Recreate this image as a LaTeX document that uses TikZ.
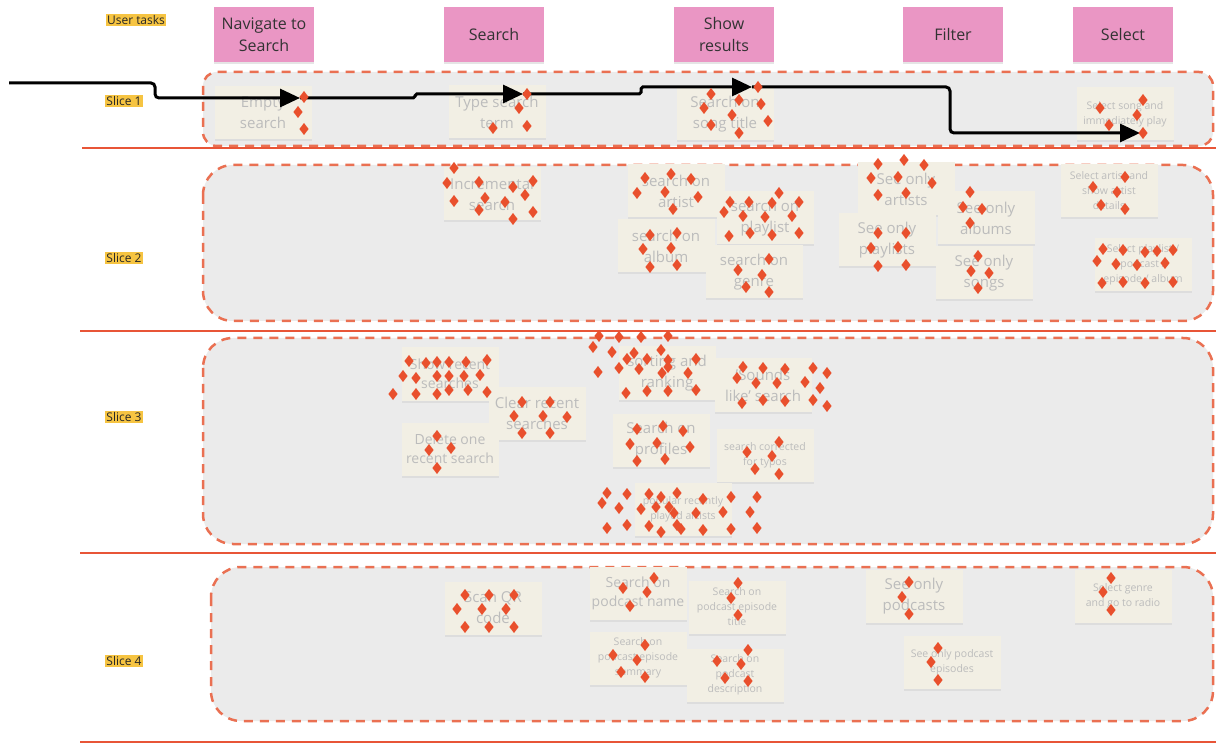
\documentclass[tikz,border=0pt]{standalone}
\usepackage{fontspec}
\setmainfont{Open Sans}
\usetikzlibrary{arrows.meta,shadows}

\definecolor{stickypink}{RGB}{234,150,196}
\definecolor{stickycream}{RGB}{242,239,228}
\definecolor{faded}{RGB}{188,188,188}
\definecolor{labelyellow}{RGB}{246,196,66}
\definecolor{slicegray}{RGB}{235,235,235}
\definecolor{slicedash}{RGB}{234,112,82}
\definecolor{rulered}{RGB}{232,85,55}
\definecolor{dot}{RGB}{233,80,45}

\tikzset{
  task/.style={fill=stickypink, minimum width=100pt, minimum height=55pt, align=center,
    text=black!80, font=\fontsize{16}{22}\selectfont,
    drop shadow={opacity=0.2, shadow xshift=0pt, shadow yshift=-2pt}},
  story/.style={fill=stickycream, minimum width=97pt, minimum height=53pt, align=center,
    text=faded, font=\fontsize{15}{21}\selectfont, inner sep=1pt,
    drop shadow={opacity=0.12, shadow xshift=0pt, shadow yshift=-2pt}},
  story small/.style={story, font=\fontsize{10.5}{15}\selectfont},
  story mid/.style={story, font=\fontsize{14}{19}\selectfont},
  tag/.style={fill=labelyellow, inner sep=1.5pt, text=black!85, font=\fontsize{12}{14}\selectfont},
  slice/.style={fill=slicegray, draw=slicedash, line width=2.5pt, dash pattern=on 9pt off 7pt,
    rounded corners=30pt},
  divider/.style={draw=rulered, line width=2pt},
  flow/.style={line width=3pt, rounded corners=4pt, -{Triangle[length=20pt,width=18pt]}}
}

% one dot vote per x/y pair
\newcommand\votes[1]{%
  \foreach \vx/\vy in {#1}
    \fill[dot] (\vx,\vy) +(0,-6) -- +(4.6,0) -- +(0,6) -- +(-4.6,0) -- cycle;}

\begin{document}
\begin{tikzpicture}[x=1pt,y=-1pt]
\useasboundingbox[fill=white] (0,0) rectangle (1216,743);

% release slices
\draw[slice, rounded corners=14pt] (203,72) rectangle (1213,146);
\draw[slice] (203,165) rectangle (1213,321);
\draw[slice] (203,338) rectangle (1213,544);
\draw[slice] (211,567) rectangle (1213,721);

\draw[divider] (82,148) -- (1216,148);
\draw[divider] (80,331) -- (1216,331);
\draw[divider] (80,553) -- (1216,553);
\draw[divider] (80,742) -- (1216,742);

% row labels
\node[tag] (tasks) at (136,20) {User tasks};
\node[tag] (s1) at (124,101) {Slice 1};
\node[tag] (s2) at (124,258) {Slice 2};
\node[tag] (s3) at (124,417) {Slice 3};
\node[tag] (s4) at (124,661) {Slice 4};

% backbone
\node[task] (navigate) at (264,35) {Navigate to\\Search};
\node[task] (search) at (494,35) {Search};
\node[task] (results) at (724,35) {Show\\results};
\node[task] (filter) at (953,35) {Filter};
\node[task] (select) at (1123,35) {Select};

% slice 1
\node[story] (empty) at (263,113) {Empty\\search};
\node[story] (typeterm) at (497,112) {Type search\\term};
\node[story] (songtitle) at (725,114) {Search on\\song title};
\node[story small] (playsong) at (1125,114) {Select song and\\immediately play};

% slice 2
\node[story] (incremental) at (492,194) {Incremental\\search};
\node[story] (onartist) at (676,191) {search on\\artist};
\node[story] (onplaylist) at (765,218) {search on\\playlist};
\node[story] (onalbum) at (666,246) {search on\\album};
\node[story] (ongenre) at (754,272) {search on\\genre};
\node[story] (onlyartists) at (906,189) {See only\\artists};
\node[story] (onlyplaylists) at (887,240) {See only\\playlists};
\node[story] (onlyalbums) at (986,218) {See only\\albums};
\node[story] (onlysongs) at (984,273) {See only\\songs};
\node[story small] (artistdetails) at (1109,191) {Select artist and\\show artist\\details};
\node[story small] (openitem) at (1143,265) {Select playlist /\\podcast /\\episode / album};

% slice 3
\node[story mid] (showrecent) at (450,374) {Show recent\\searches};
\node[story] (clearrecent) at (537,413) {Clear recent\\searches};
\node[story mid] (deleteone) at (450,449) {Delete one\\recent search};
\node[story] (sorting) at (667,373) {sorting and\\ranking};
\node[story] (soundslike) at (763,385) {'Sounds\\like' search};
\node[story] (profiles) at (661,440) {Search on\\profiles};
\node[story small] (typos) at (765,455) {search corrected\\for typos};
\node[story small] (played) at (683,509) {popular recently\\played artists};

% slice 4
\node[story] (scanqr) at (493,608) {Scan QR\\code};
\node[story mid] (podname) at (638,593) {Search on\\podcast name};
\node[story small] (eptitle) at (737,607) {Search on\\podcast episode\\title};
\node[story small] (epsummary) at (638,658) {Search on\\podcast episode\\summary};
\node[story small] (poddesc) at (735,675) {Search on\\podcast\\description};
\node[story] (onlypodcasts) at (914,596) {See only\\podcasts};
\node[story small] (onlyepisodes) at (952,662) {See only podcast\\episodes};
\node[story small] (radio) at (1123,596) {Select genre\\and go to radio};

% walking skeleton
\coordinate (start) at (9,83);
\coordinate (v1) at (300,98);
\coordinate (v2) at (523,94);
\coordinate (v3) at (752,87);
\coordinate (v4) at (1140,133);
\draw[flow] (start) -- ++(146,0) |- (v1);
\draw[flow, rounded corners=1.8pt] (v1) -- ++(115,0) |- (v2);
\draw[flow, rounded corners=1.8pt] (v2) -- ++(118,0) |- (v3);
\draw[flow] (v3) -- ++(198,0) |- (v4);

% dot votes
\votes{304/97, 298/112, 304/129}
\votes{527/94, 519/108, 527/126, 493/128}
\votes{711/94, 704/108, 739/100, 758/87, 761/104, 732/115, 768/121, 711/125, 739/133}
\votes{1100/108, 1143/100, 1137/115, 1109/125, 1143/133}

\votes{454/168, 447/183, 479/182, 513/187, 533/181, 454/201, 485/198, 505/202, 525/195, 479/210, 513/219, 533/212}
\votes{645/178, 671/174, 691/179, 637/193, 665/192, 698/197, 673/209}
\votes{730/202, 749/202, 772/203, 779/193, 799/202, 724/212, 743/216, 765/217, 792/216, 729/236, 750/233, 772/235, 799/233}
\votes{650/235, 677/233, 643/249, 671/248, 650/267, 677/265}
\votes{769/259, 738/270, 762/275, 746/287, 769/292}
\votes{878/164, 904/160, 924/165, 871/178, 898/177, 932/183, 878/195, 906/193}
\votes{878/233, 906/233, 871/248, 898/247, 878/266, 906/265}
\votes{970/192, 963/207, 982/209, 970/223}
\votes{978/256, 971/271, 989/273, 978/288}
\votes{1125/177, 1093/187, 1117/192, 1101/205, 1125/209}
\votes{1103/249, 1123/250, 1145/252, 1157/251, 1173/250, 1097/261, 1116/264, 1137/265, 1165/263, 1102/283, 1123/282, 1145/283, 1173/282}

\votes{409/361, 426/363, 437/362, 449/362, 466/362, 487/360, 403/376, 416/378, 437/376, 449/376, 464/376, 480/375, 393/394, 416/394, 437/394, 449/390, 468/390, 487/392}
\votes{522/402, 550/402, 514/416, 543/416, 567/417, 522/433, 550/433}
\votes{437/436, 429/450, 451/448, 437/468}
\votes{599/336, 619/337, 641/337, 668/336, 593/347, 612/352, 634/353, 661/350, 627/359, 647/359, 668/360, 696/359, 598/372, 619/368, 639/369, 662/373, 668/367, 688/373, 626/393, 647/391, 668/391, 696/390}
\votes{743/367, 763/368, 785/369, 813/368, 827/373, 737/378, 756/383, 777/383, 805/382, 820/388, 742/403, 763/400, 785/401, 813/400, 827/406}
\votes{637/429, 663/426, 683/431, 630/444, 657/443, 690/447, 637/461, 665/459}
\votes{779/442, 747/452, 772/456, 755/469, 779/474}
\votes{607/493, 627/494, 649/494, 661/497, 677/493, 703/499, 731/497, 757/497, 602/503, 619/508, 641/509, 656/507, 669/507, 674/513, 696/513, 723/512, 750/512, 607/528, 627/525, 649/526, 661/532, 677/525, 681/529, 703/530, 731/529, 757/528}

\votes{465/595, 489/595, 514/595, 457/609, 482/609, 506/609, 465/627, 489/627, 514/627}
\votes{654/578, 623/588, 647/592, 630/606}
\votes{738/583, 731/598, 738/615}
\votes{645/645, 613/655, 637/660, 621/672, 645/677}
\votes{748/650, 717/661, 741/664, 725/678, 748/681}
\votes{909/582, 902/597, 909/614}
\votes{938/648, 931/662, 938/680}
\votes{1111/578, 1103/592, 1111/610}
\end{tikzpicture}
\end{document}
